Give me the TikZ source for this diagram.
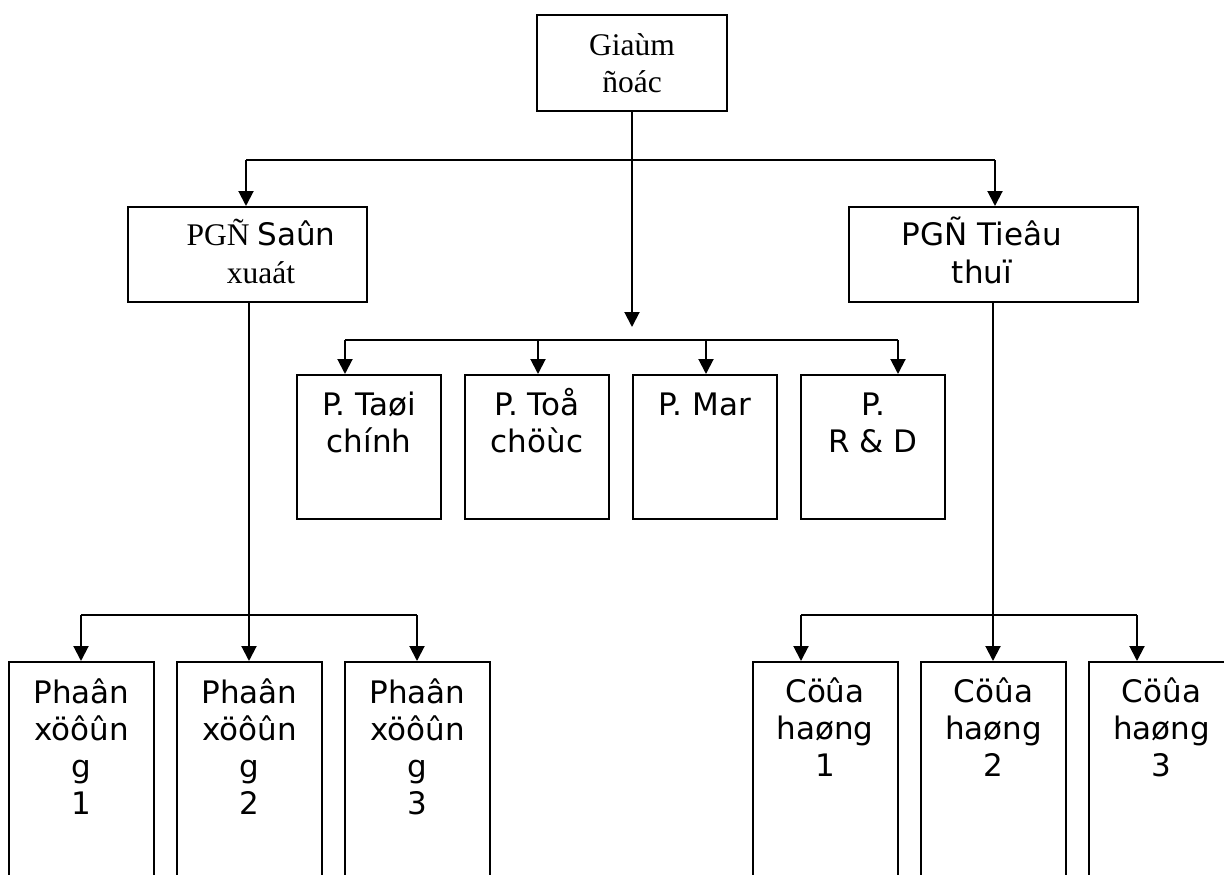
\documentclass[tikz,border=0pt]{standalone}
\usepackage{fontspec}
\setmainfont{Liberation Serif}
\newfontfamily\dv{DejaVu Sans}
\usetikzlibrary{arrows.meta}
\newcommand\myst{\rule{0pt}{30pt}}
\begin{document}
\begin{tikzpicture}[x=1pt,y=-1pt,
  box/.style={draw,line width=2pt,inner sep=0,minimum width=#1},
  sq/.style={box=144pt,minimum height=144pt},
  tall/.style={box=145pt,minimum height=238pt},
  ln/.style={line width=2pt},
  arr/.style={ln,-{Triangle[width=15pt,length=15pt]}},
  sans/.style={inner sep=0,anchor=north,align=center,font=\dv\fontsize{31}{37}\selectfont},
  serif/.style={inner sep=0,anchor=north,align=center,font=\fontsize{31.5}{37}\selectfont}]
\useasboundingbox (0,0) rectangle (1224,875);
\clip (0,0) rectangle (1224,875);

% boxes
\node[box=190pt,minimum height=96pt] (gd) at (632,63) {};
\node[box=239pt,minimum height=95pt] (pgs) at (247.5,254.5) {};
\node[box=289pt,minimum height=95pt] (pgt) at (993.5,254.5) {};
\node[sq] (m1) at (369,447) {};
\node[sq] (m2) at (537,447) {};
\node[sq] (m3) at (705,447) {};
\node[sq] (m4) at (873,447) {};
\node[tall] (l1) at (81.5,781) {};
\node[tall] (l2) at (249.5,781) {};
\node[tall] (l3) at (417.5,781) {};
\node[tall] (r1) at (825,781) {};
\node[tall] (r2) at (993.5,781) {};
\node[tall] (r3) at (1161.5,781) {};

% labels
\node[serif] (tgd) at (632,25) {\myst Giaùm\\ñoác};
\node[serif,font=\fontsize{31.5}{38}\selectfont] (tpgs) at (261,215) {\myst PGÑ {\dv\fontsize{31}{38}\selectfont Saûn}\\xuaát};
\node[sans,font=\dv\fontsize{31}{38}\selectfont] (tpgt) at (982,215) {\myst PGÑ Tieâu\\thuï};
\node[sans] (tm1) at (369,385) {\myst P. Taøi\\chính};
\node[sans] (tm2) at (537,385) {\myst P. Toå\\chöùc};
\node[sans] (tm3) at (705,385) {\myst P. Mar};
\node[sans] (tm4) at (873,385) {\myst P.\\R \& D};
\node[sans] (tl1) at (81.5,673) {\myst Phaân\\xöôûn\\g\\1};
\node[sans] (tl2) at (249.5,673) {\myst Phaân\\xöôûn\\g\\2};
\node[sans] (tl3) at (417.5,673) {\myst Phaân\\xöôûn\\g\\3};
\node[sans] (tr1) at (825,672) {\myst Cöûa\\haøng\\1};
\node[sans] (tr2) at (993.5,672) {\myst Cöûa\\haøng\\2};
\node[sans] (tr3) at (1161.5,672) {\myst Cöûa\\haøng\\3};

% top level branches
\coordinate (hL) at (246,160);
\coordinate (hR) at (995,160);
\coordinate (mtip) at (632,327);
\draw[ln] (hL) -- (hR);
\draw[arr] (hL) -- (hL |- pgs.north);
\draw[arr] (hR) -- (hR |- pgt.north);
\draw[arr] (gd.south) -- (mtip);

% staff departments
\coordinate (a1) at (345,340);
\coordinate (a2) at (538,340);
\coordinate (a3) at (706,340);
\coordinate (a4) at (898,340);
\draw[ln] (a1) -- (a4);
\draw[arr] (a1) -- (a1 |- m1.north);
\draw[arr] (a2) -- (a2 |- m2.north);
\draw[arr] (a3) -- (a3 |- m3.north);
\draw[arr] (a4) -- (a4 |- m4.north);

% production branch
\coordinate (b1) at (81,615);
\coordinate (b2) at (249,615);
\coordinate (b3) at (417,615);
\draw[ln] (b1) -- (b3);
\draw[arr] (b2 |- pgs.south) -- (b2 |- l2.north);
\draw[arr] (b1) -- (b1 |- l1.north);
\draw[arr] (b3) -- (b3 |- l3.north);

% sales branch
\coordinate (c1) at (801,615);
\coordinate (c2) at (993,615);
\coordinate (c3) at (1137,615);
\draw[ln] (c1) -- (c3);
\draw[arr] (c2 |- pgt.south) -- (c2 |- r2.north);
\draw[arr] (c1) -- (c1 |- r1.north);
\draw[arr] (c3) -- (c3 |- r3.north);
\end{tikzpicture}
\end{document}
